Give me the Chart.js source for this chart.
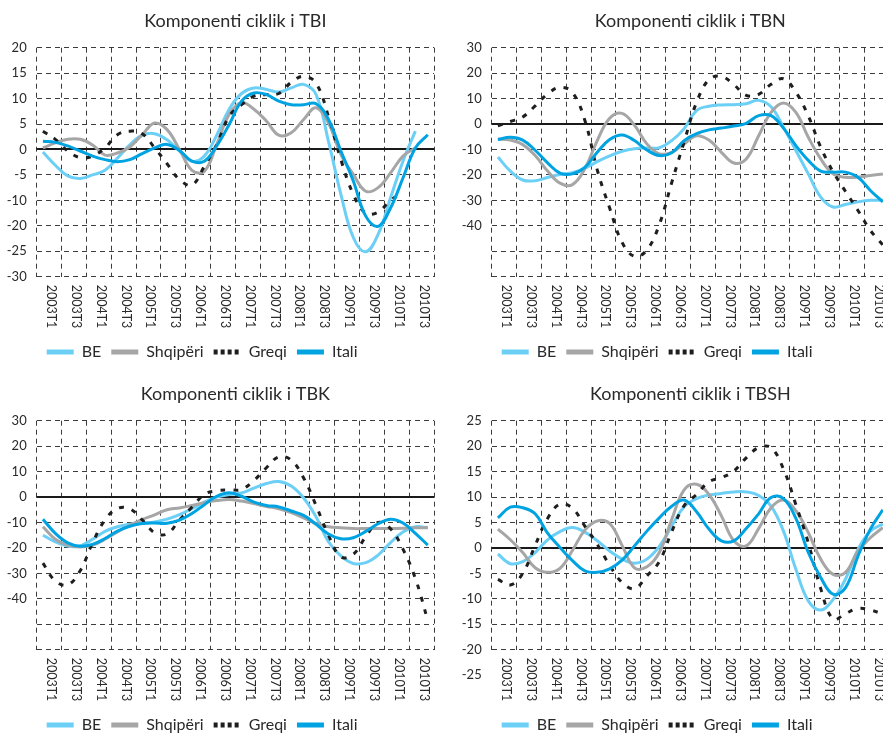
<!DOCTYPE html>
<html>
<head>
<meta charset="utf-8">
<script src="https://cdn.jsdelivr.net/npm/chart.js@4/dist/chart.umd.min.js"></script>
<style>
  html, body { margin: 0; padding: 0; background: #fff; }
  #page { position: relative; width: 883px; height: 736px; overflow: hidden; background: #fff; }
  #page canvas { position: absolute; }
</style>
</head>
<body>
<div id="page">
  <canvas id="tbi"  width="445" height="370" style="left:0;top:0"></canvas>
  <canvas id="tbn"  width="455" height="370" style="left:445px;top:0"></canvas>
  <canvas id="tbk"  width="445" height="370" style="left:0;top:373px"></canvas>
  <canvas id="tbsh" width="455" height="370" style="left:445px;top:373px"></canvas>
</div>
<script>
// Quarterly periods
const quarters = [
  '2003T1','2003T2','2003T3','2003T4','2004T1','2004T2','2004T3','2004T4',
  '2005T1','2005T2','2005T3','2005T4','2006T1','2006T2','2006T3','2006T4',
  '2007T1','2007T2','2007T3','2007T4','2008T1','2008T2','2008T3','2008T4',
  '2009T1','2009T2','2009T3','2009T4','2010T1','2010T2','2010T3','2010T4'
];
// Axis labels, one per two quarters
const bandLabels = [
  '2003T1','2003T3','2004T1','2004T3','2005T1','2005T3','2006T1','2006T3',
  '2007T1','2007T3','2008T1','2008T3','2009T1','2009T3','2010T1','2010T3'
];
const seriesNames = ['BE', 'Shqipëri', 'Greqi', 'Itali'];

// Komponenti ciklik i TBI
const tbiBE = [-0.5,-3.1,-5.2,-5.7,-5.0,-4.1,-1.7,0.9,2.8,3.1,1.9,-0.3,-2.3,-1.3,2.8,7.9,11.0,12.1,11.8,11.3,12.1,12.8,10.8,1.6,-8.8,-17.3,-20.1,-16.7,-9.5,-2.3,3.6,null];
const tbiAL = [0.3,1.3,2.0,2.0,0.9,-1.1,-0.7,0.5,2.9,5.2,3.9,0.0,-4.1,-4.3,1.0,6.9,9.2,7.9,5.6,2.8,3.3,5.9,8.2,5.2,-1.0,-4.9,-8.2,-7.5,-4.6,-1.3,0.3,null];
const tbiGR = [3.6,2.0,-0.3,-1.6,-1.3,0.3,2.9,3.6,3.1,0.3,-2.8,-5.9,-7.0,-3.3,1.0,6.5,8.8,10.5,10.8,11.0,13.2,14.4,13.0,6.5,-2.0,-8.8,-12.5,-12.3,-10.0,-8.5,null,null];
const tbiIT = [1.6,1.4,0.7,-0.3,-1.3,-2.0,-2.4,-2.0,-0.8,0.3,1.0,-0.2,-2.3,-2.3,0.7,4.9,9.5,11.1,10.8,9.5,8.8,8.8,9.0,5.9,-0.3,-6.2,-13.1,-15.1,-11.5,-5.6,0.3,2.9];
const tbiTicks = ['20','15','10','5','0','-5','-10','-20','-25','-30'];

// Komponenti ciklik i TBN
const tbnBE = [-13.0,-18.5,-22.0,-22.3,-21.0,-19.8,-19.1,-17.4,-14.8,-12.5,-10.7,-9.7,-9.4,-9.3,-6.5,-1.8,5.3,7.0,7.5,7.6,8.0,9.3,6.8,-1.3,-10.4,-19.6,-28.7,-32.6,-31.6,-30.6,-30.0,-30.0];
const tbnAL = [-5.9,-6.3,-8.1,-12.4,-18.5,-23.2,-23.8,-17.6,-6.5,2.3,4.2,-0.5,-7.8,-11.7,-11.1,-7.8,-4.6,-6.3,-11.1,-15.3,-13.7,-4.6,4.6,8.3,4.6,-5.2,-13.7,-19.6,-20.9,-20.9,-20.2,-19.6];
const tbnGR = [-0.7,1.0,2.8,7.1,11.8,14.4,12.4,1.5,-18.0,-33.0,-46.5,-52.0,-49.5,-39.5,-23.0,-7.0,8.5,17.5,18.7,15.5,11.3,11.7,15.6,17.8,12.5,3.2,-9.1,-18.8,-26.5,-34.0,-41.8,-47.5];
const tbnIT = [-6.1,-5.2,-6.3,-10.3,-15.3,-19.3,-19.6,-17.0,-11.1,-6.1,-4.3,-6.5,-10.2,-12.4,-11.3,-6.5,-3.8,-2.3,-1.6,-0.8,0.3,3.3,3.3,-1.6,-8.5,-14.3,-18.5,-18.9,-18.9,-20.9,-26.1,-30.6];
const tbnTicks = ['30','20','10','0','-10','-20','-30','-40','',''];

// Komponenti ciklik i TBK
const tbkBE = [-15.0,-17.6,-19.3,-19.2,-16.6,-13.5,-11.7,-10.7,-10.2,-9.8,-8.7,-6.9,-4.6,-2.0,0.0,1.0,1.6,3.5,5.3,6.1,4.3,-0.4,-7.8,-17.6,-23.1,-26.1,-25.8,-22.8,-17.9,-13.7,-11.7,-12.1];
const tbkAL = [-11.7,-16.6,-18.9,-19.6,-18.9,-16.6,-13.7,-11.1,-8.8,-7.0,-5.0,-4.3,-3.3,-2.2,-1.4,-1.0,-1.6,-2.6,-3.7,-4.6,-6.1,-8.2,-10.4,-11.7,-12.1,-12.4,-12.4,-12.4,-12.4,-12.3,-12.1,-12.0];
const tbkGR = [-26.0,-33.0,-34.5,-29.0,-18.0,-9.0,-4.5,-4.6,-9.0,-14.0,-14.5,-9.0,-4.0,1.0,2.5,2.8,3.0,6.5,11.5,15.8,14.5,7.5,-3.3,-15.0,-23.5,-22.5,-15.6,-10.0,-12.5,-20.5,-32.0,-48.5];
const tbkIT = [-8.7,-14.3,-18.0,-19.3,-18.6,-16.3,-13.4,-11.5,-10.4,-10.2,-10.3,-9.1,-6.5,-3.0,0.3,1.7,0.3,-2.0,-3.3,-3.9,-5.5,-7.2,-10.7,-14.5,-16.4,-16.0,-13.5,-10.5,-8.7,-10.2,-14.3,-18.9];
const tbkTicks = ['30','20','10','0','-10','-20','-30','-40','',''];

// Komponenti ciklik i TBSH
const tbshBE = [-1.2,-3.1,-2.7,-0.9,1.6,3.2,4.0,3.1,1.4,-0.6,-2.2,-3.0,-2.2,0.3,4.3,8.1,9.7,10.4,10.7,11.0,11.0,10.3,8.2,3.3,-4.2,-10.4,-12.2,-10.1,-6.1,-0.3,3.3,4.7];
const tbshAL = [3.7,1.6,-0.9,-3.9,-4.8,-4.0,-0.5,3.5,5.3,4.8,0.5,-3.9,-3.7,-0.9,5.6,11.4,12.5,10.5,6.3,1.4,0.4,3.8,7.9,9.4,7.3,3.0,-2.2,-5.2,-4.8,-0.6,2.0,4.0];
const tbshGR = [-6.2,-7.3,-5.0,0.5,5.8,8.6,7.8,4.3,0.7,-3.4,-6.8,-8.0,-5.5,-2.7,3.2,8.3,10.5,13.0,13.8,15.1,17.7,19.7,19.7,15.5,8.5,1.0,-8.0,-14.0,-12.9,-11.9,-12.2,-13.0];
const tbshIT = [5.9,8.0,7.9,6.7,2.9,0.1,-2.5,-4.5,-4.8,-4.1,-2.4,0.4,3.3,5.9,8.2,9.4,7.1,3.7,1.4,1.4,3.8,6.7,9.9,9.7,5.8,-0.9,-5.8,-9.1,-7.8,-1.6,3.7,7.5];
const tbshTicks = ['25','20','15','10','5','0','-5','-10','-15','-20'];
const tbshExtraValues = [-25];
const tbshExtraTicks = ['-25'];

const FONT = 'Lato, "Open Sans", sans-serif';
const TEXT = '#2a2a2a';
const GRID = '#3c3c3c';
const COLORS = ['#6CCFF6', '#A6A6A6', '#1E1E1E', '#00A3E2'];
const SERIES_DASH = [[], [], [5, 8], []];
const LEGEND_DASH = [[], [], [4, 3], []];

// Solid zero line across the plot area, beneath the series
const zeroLine = {
  id: 'zeroLine',
  beforeDatasetsDraw(chart) {
    const { ctx, chartArea: a, scales: { y } } = chart;
    const py = Math.round(y.getPixelForValue(0));
    ctx.save();
    ctx.strokeStyle = '#1a1a1a';
    ctx.lineWidth = 2;
    ctx.beginPath();
    ctx.moveTo(a.left, py);
    ctx.lineTo(a.right, py);
    ctx.stroke();
    ctx.restore();
  }
};

// Category labels under each two-quarter band, written top to bottom
const bandTicks = {
  id: 'bandTicks',
  afterDraw(chart) {
    const s = chart.scales.bands;
    const ctx = chart.ctx;
    ctx.save();
    ctx.fillStyle = TEXT;
    ctx.font = '12.5px ' + FONT;
    ctx.textAlign = 'left';
    ctx.textBaseline = 'middle';
    s.ticks.forEach((t, i) => {
      ctx.save();
      ctx.translate(s.getPixelForTick(i) + 2, chart.chartArea.bottom + 8);
      ctx.rotate(Math.PI / 2);
      ctx.fillText(s.getLabelForValue(t.value), 0, 0);
      ctx.restore();
    });
    ctx.restore();
  }
};

// Additional value labels on the left axis beyond its range
const extraTicks = {
  id: 'extraTicks',
  afterDraw(chart, args, opts) {
    if (!opts || !opts.values) return;
    const y = chart.scales.y;
    const ctx = chart.ctx;
    ctx.save();
    ctx.fillStyle = TEXT;
    ctx.font = '13px ' + FONT;
    ctx.textAlign = 'right';
    ctx.textBaseline = 'middle';
    opts.values.forEach((v, i) => {
      ctx.fillText(opts.labels[i], chart.chartArea.left - 10, y.getPixelForValue(v));
    });
    ctx.restore();
  }
};

function makeChart(id, cfg) {
  const series = [cfg.be, cfg.al, cfg.gr, cfg.it];
  const datasets = series.map((data, k) => ({
    label: seriesNames[k],
    data: data,
    borderColor: COLORS[k],
    backgroundColor: COLORS[k],
    borderWidth: 3,
    borderDash: SERIES_DASH[k],
    order: 4 - k
  }));
  return new Chart(document.getElementById(id), {
    type: 'line',
    data: { labels: quarters, datasets },
    options: {
      responsive: false,
      animation: false,
      devicePixelRatio: 1,
      layout: { padding: { left: 0, right: 11, top: 0, bottom: 0 } },
      elements: {
        point: { radius: 0, hoverRadius: 0 },
        line: { tension: 0.4, fill: false, borderCapStyle: 'butt' }
      },
      plugins: {
        title: {
          display: true,
          text: cfg.title,
          fullSize: false,
          color: TEXT,
          font: { family: FONT, size: 18, weight: 'normal', lineHeight: 1.2 },
          padding: { top: 10.2, bottom: 15.9 }
        },
        legend: {
          position: 'bottom',
          align: 'start',
          fullSize: false,
          labels: {
            usePointStyle: true,
            pointStyle: 'line',
            pointStyleWidth: 27,
            padding: 10,
            color: TEXT,
            font: { family: FONT, size: 16 },
            sort: (a, b) => a.datasetIndex - b.datasetIndex,
            generateLabels(chart) {
              const items = Chart.defaults.plugins.legend.labels.generateLabels(chart);
              items.forEach(it => {
                it.lineWidth = 5;
                it.strokeStyle = COLORS[it.datasetIndex];
                it.lineDash = LEGEND_DASH[it.datasetIndex];
                it.lineCap = 'butt';
              });
              return items;
            }
          }
        },
        tooltip: { enabled: false },
        extraTicks: cfg.extra || {}
      },
      scales: {
        x: { display: false, offset: true },
        bands: {
          type: 'category',
          axis: 'x',
          position: 'bottom',
          labels: bandLabels,
          offset: true,
          grid: { offset: true, color: GRID, lineWidth: 1, drawTicks: false },
          border: { display: false, dash: [5, 4] },
          ticks: { display: false },
          afterFit: s => { s.height = 57.3; }
        },
        y: {
          min: cfg.min,
          max: cfg.max,
          ticks: {
            stepSize: cfg.step,
            autoSkip: false,
            padding: 10,
            color: TEXT,
            font: { family: FONT, size: 13 },
            callback: v => cfg.ticks[Math.round((cfg.max - v) / cfg.step)]
          },
          grid: { color: GRID, lineWidth: 1, drawTicks: false },
          border: { display: false, dash: [5, 4] },
          afterFit: s => { s.width = cfg.yWidth; }
        }
      }
    },
    plugins: [zeroLine, bandTicks, extraTicks]
  });
}

makeChart('tbi', { title: 'Komponenti ciklik i TBI', be: tbiBE, al: tbiAL, gr: tbiGR, it: tbiIT,
  min: -25, max: 20, step: 5, ticks: tbiTicks, yWidth: 36.7 });
makeChart('tbn', { title: 'Komponenti ciklik i TBN', be: tbnBE, al: tbnAL, gr: tbnGR, it: tbnIT,
  min: -60, max: 30, step: 10, ticks: tbnTicks, yWidth: 46.7 });
makeChart('tbk', { title: 'Komponenti ciklik i TBK', be: tbkBE, al: tbkAL, gr: tbkGR, it: tbkIT,
  min: -60, max: 30, step: 10, ticks: tbkTicks, yWidth: 36.7 });
makeChart('tbsh', { title: 'Komponenti ciklik i TBSH', be: tbshBE, al: tbshAL, gr: tbshGR, it: tbshIT,
  min: -20, max: 25, step: 5, ticks: tbshTicks, yWidth: 46.7,
  extra: { values: tbshExtraValues, labels: tbshExtraTicks } });
</script>
</body>
</html>
